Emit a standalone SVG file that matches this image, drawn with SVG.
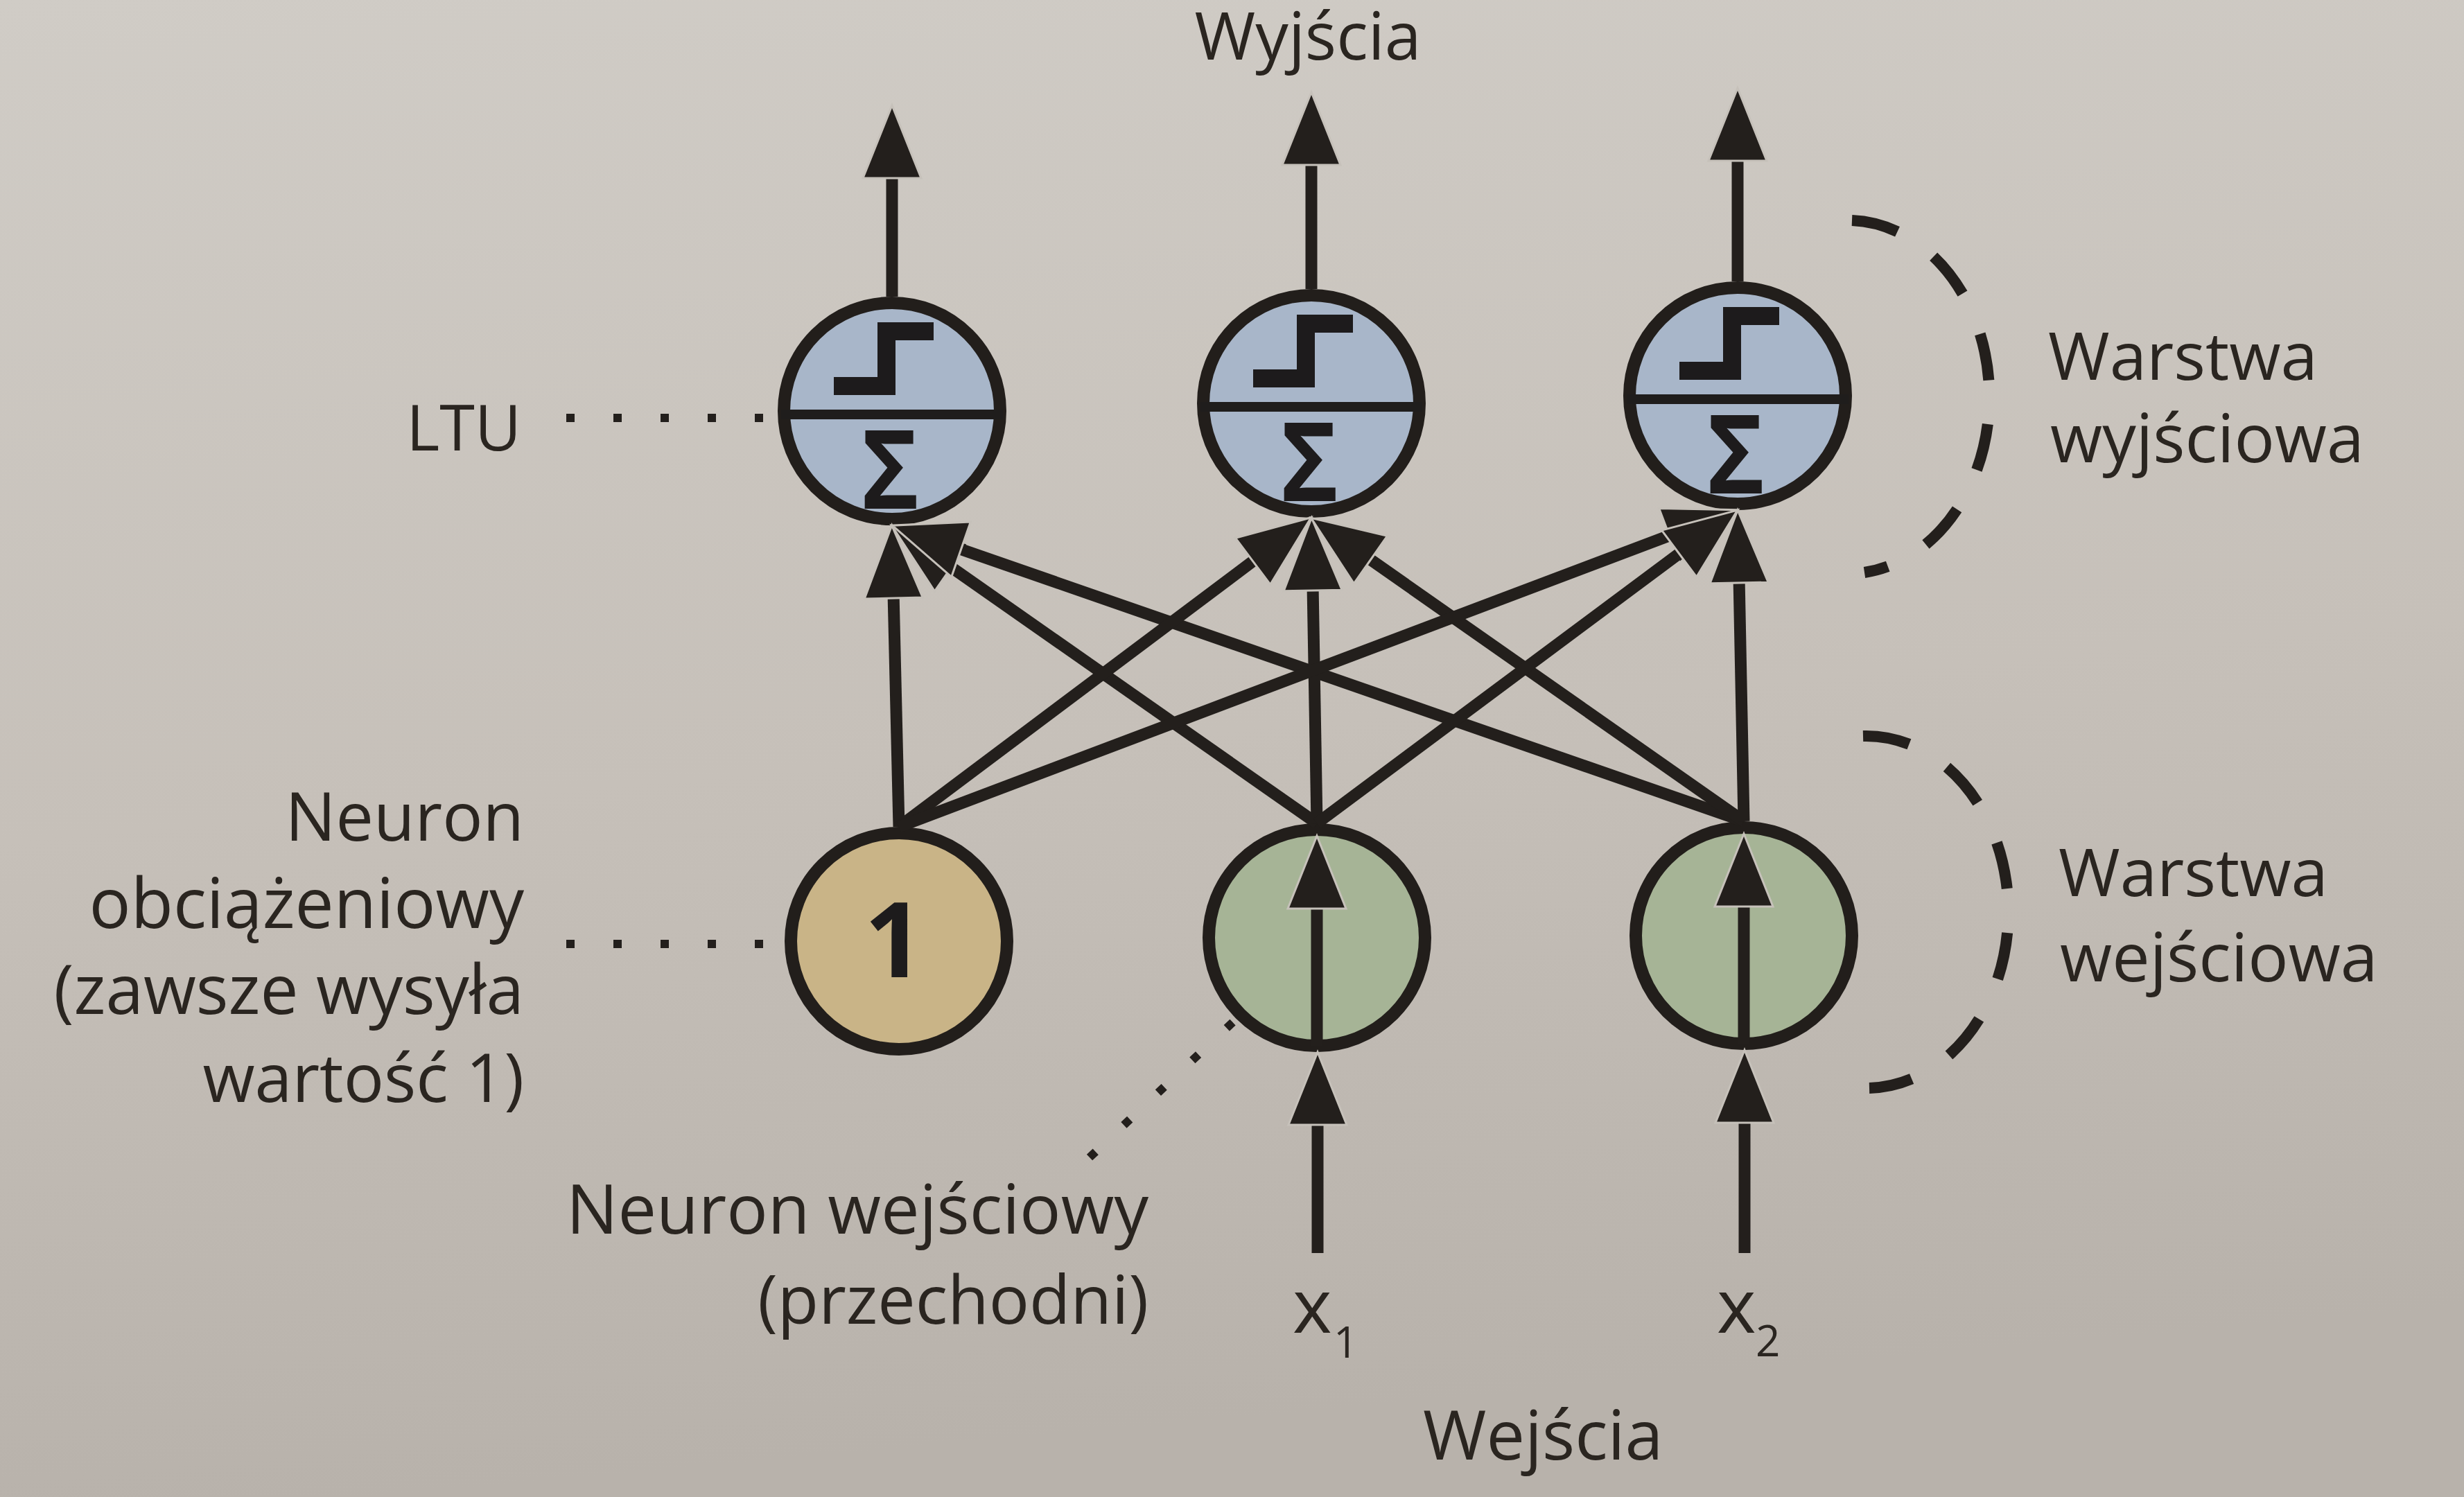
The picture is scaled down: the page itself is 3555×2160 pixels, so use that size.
<svg xmlns="http://www.w3.org/2000/svg" xmlns:xlink="http://www.w3.org/1999/xlink" width="3555" height="2160" viewBox="0 0 3555 2160">
<defs>
<linearGradient id="paper" x1="0" y1="0" x2="0.15" y2="1">
<stop offset="0" stop-color="#d0ccc6"/>
<stop offset="0.55" stop-color="#c6c0b9"/>
<stop offset="1" stop-color="#b8b2ab"/>
</linearGradient>
<marker id="ah" markerUnits="userSpaceOnUse" markerWidth="120" markerHeight="100" viewBox="-5 -50 120 100" refX="8" refY="0" orient="auto">
<path d="M0,-42 L105,0 L0,42 Z" fill="#231f1c" stroke="#c6c1ba" stroke-width="3" stroke-linejoin="miter"/>
</marker>
<g id="ltuSym">
<path d="M-84,-36 H-8 V-115 H60" fill="none" stroke="#1d1b1c" stroke-width="26" stroke-linejoin="miter"/>
<line x1="-160" y1="5" x2="160" y2="5" stroke="#1f1d1c" stroke-width="14"/>
<text transform="scale(0.9,1)" x="-3" y="141" text-anchor="middle" class="sig">Σ</text>
</g>
</defs>
<style>
.ltu{fill:#a8b6c9;stroke:#221e1b;stroke-width:18}
.inp{fill:#a6b496;stroke:#221e1b;stroke-width:18}
.bias{fill:#c9b487;stroke:#221e1b;stroke-width:18}
.con{fill:none;stroke:#231f1c;stroke-width:17;marker-end:url(#ah)}
.dot{fill:none;stroke:#231f1c;stroke-width:12;stroke-dasharray:12 56}
.brk{fill:none;stroke:#231f1c;stroke-width:16}
.lbl{font-family:"Open Sans","Noto Sans","Liberation Sans",sans-serif;font-size:97px;fill:#2a2520}
.sig{font-family:"Open Sans","Liberation Sans",sans-serif;font-weight:bold;font-size:158px;fill:#1d1b1c}
.one{font-family:"Open Sans","Liberation Sans",sans-serif;font-weight:bold;font-size:150px;fill:#1d1b1c}
</style>
<rect x="0" y="0" width="3555" height="2160" fill="url(#paper)"/>

<g id="ltu1">
<circle cx="1287" cy="593" r="156" class="ltu"/>
<use xlink:href="#ltuSym" transform="translate(1287,593)"/>
</g>
<g id="ltu2">
<circle cx="1892" cy="582" r="156" class="ltu"/>
<use xlink:href="#ltuSym" transform="translate(1892,582)"/>
</g>
<g id="ltu3">
<circle cx="2507" cy="571" r="156" class="ltu"/>
<use xlink:href="#ltuSym" transform="translate(2507,571)"/>
</g>
<g id="bias">
<circle cx="1297" cy="1358" r="156" class="bias"/>
<text x="1290" y="1410" text-anchor="middle" class="one">1</text>
</g>
<g id="input1">
<circle cx="1900" cy="1353" r="156" class="inp"/>
</g>
<g id="input2">
<circle cx="2516" cy="1350" r="156" class="inp"/>
</g>

<g id="connectors">
<path class="con" d="M1297,1193 L1289,855"/>
<path class="con" d="M1900,1188 L1366,814"/>
<path class="con" d="M2516,1185 L1379,790"/>
<path class="con" d="M1297,1193 L1814,805"/>
<path class="con" d="M1900,1188 L1894,844"/>
<path class="con" d="M2516,1185 L1971,803"/>
<path class="con" d="M1297,1193 L2416,770"/>
<path class="con" d="M1900,1188 L2429,794"/>
<path class="con" d="M2516,1185 L2509,833"/>
<path class="con" d="M1287,428 V249"/>
<path class="con" d="M1892,417 V230"/>
<path class="con" d="M2507,406 V224"/>
<path class="con" d="M1901,1808 V1615"/>
<path class="con" d="M2517,1808 V1612"/>
<path class="con" d="M1900,1509 V1303"/>
<path class="con" d="M2516,1506 V1300"/>
</g>

<g id="leaders">
<path class="dot" d="M817,603 H1112"/>
<path class="dot" d="M817,1362 H1125"/>
<path class="dot" d="M1572,1670 L1786,1468"/>
<path class="brk" d="M2672,318 A205 255 0 0 1 2690,826" style="stroke-dasharray:68 63.6"/>
<path class="brk" d="M2688,1062 A205 254 0 0 1 2697,1570" style="stroke-dasharray:68 64"/>
</g>

<g id="labels">
<text class="lbl" x="1887" y="86" text-anchor="middle" style="font-size:95px">Wyjścia</text>
<text class="lbl" x="752" y="650" text-anchor="end" style="font-size:92px">LTU</text>
<text class="lbl" x="756" y="1213" text-anchor="end">Neuron</text>
<text class="lbl" x="756" y="1339" text-anchor="end" style="font-size:100px">obciążeniowy</text>
<text class="lbl" x="756" y="1463" text-anchor="end" style="font-size:98px">(zawsze wysyła</text>
<text class="lbl" x="756" y="1590" text-anchor="end">wartość 1)</text>
<text class="lbl" x="1657" y="1780" text-anchor="end" style="font-size:99px">Neuron wejściowy</text>
<text class="lbl" x="1657" y="1910" text-anchor="end" style="font-size:97px">(przechodni)</text>
<text class="lbl" x="1865" y="1923" style="font-size:108px">x</text>
<text class="lbl" x="1924" y="1959" style="font-size:62px">1</text>
<text class="lbl" x="2477" y="1923" style="font-size:108px">x</text>
<text class="lbl" x="2533" y="1957" style="font-size:62px">2</text>
<text class="lbl" x="2053" y="2106" style="font-size:99px">Wejścia</text>
<text class="lbl" x="2955" y="548" style="font-size:96px">Warstwa</text>
<text class="lbl" x="2958" y="667" style="font-size:97px">wyjściowa</text>
<text class="lbl" x="2970" y="1293" style="font-size:96px">Warstwa</text>
<text class="lbl" x="2972" y="1416" style="font-size:97px">wejściowa</text>
</g>
</svg>
